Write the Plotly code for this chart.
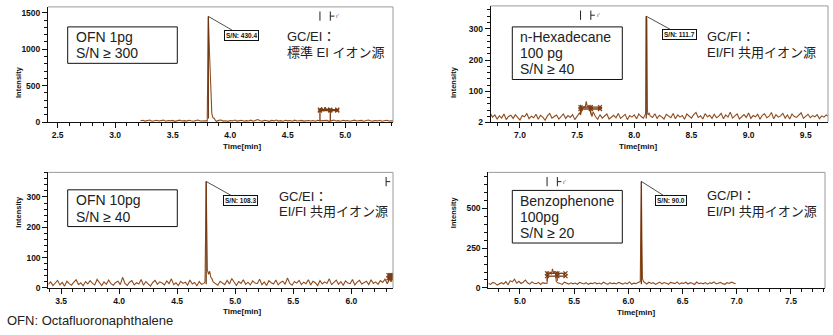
import numpy as np
import plotly.graph_objects as go

W, H = 833, 335
LINE = "#8e4c1e"

# ---------------- data ----------------
# Panel 1: OFN 1pg, standard EI source
p1_start, p1_step = 3.22, 0.02
p1_base = [18, 25, 14, 22, 30, 12, 20, 26, 15, 19,
           28, 13, 22, 17, 24, 11, 20, 27, 16, 21,
           14, 25, 18, 12, 22, 29, 15, 20, 17, 22,
           14, 26, 18, 12, 24, 30, 15, 20, 11, 23,
           17, 28, 14, 19, 25, 12, 21, 16, 27, 13,
           22, 35, 18, 14, 26, 20, 11, 24, 17, 29,
           15, 21, 13, 25, 18, 22, 12, 27, 16, 20,
           24, 14, 19, 23, 15, 22, 12, 26, 18, 20,
           14, 24, 11, 19, 28, 16, 21, 13, 25, 17,
           22, 12, 20, 27, 15, 18, 24, 13, 21, 30,
           19, 14, 23, 17, 26, 12, 20, 25, 16, 22,
           18]
p1_peak_t = [3.79, 3.80, 3.805, 3.81, 3.82, 3.83, 3.84, 3.85, 3.86, 3.87]
p1_peak_i = [20, 15, 700, 1450, 950, 380, 120, 60, 55, 28]
p1_noise_t = [4.78, 4.78, 4.795, 4.81, 4.825, 4.84, 4.855, 4.87, 4.87]
p1_noise_i = [15, 175, 195, 160, 205, 165, 190, 175, 15]
p1_win = (4.78, 4.87, 4.93)
p1_win_levels = [172, 160]

# Panel 2: n-Hexadecane 100 pg, EI/FI source
p2_start, p2_step = 6.74, 0.02
p2_base = [30, 18, 25, 12, 22, 15, 28, 10, 20, 24,
           14, 26, 17, 9, 23, 19, 29, 13, 21, 16,
           27, 11, 24, 18, 8, 22, 30, 15, 20, 25,
           12, 19, 28, 14, 23, 17, 26, 10, 21, 31,
           16, 24, 13, 29, 18, 35, 20, 11, 26, 15,
           22, 28, 12, 19, 24, 16, 30, 14, 21, 27,
           10, 23, 18, 25, 13, 28, 20, 15, 26, 11,
           22, 17, 29, 14, 24, 19, 12, 27, 21, 16,
           30, 13, 25, 18, 23, 11, 28, 20, 15, 26,
           33, 17, 22, 12, 29, 19, 24, 14, 27, 16,
           21, 30, 13, 25, 18, 34, 15, 22, 28, 12,
           20, 26, 17, 31, 14, 23, 19, 27, 11, 24,
           29, 16, 21, 33, 13, 26, 18, 22, 30, 15,
           25, 12, 28, 20, 17, 24, 32, 14, 21, 27,
           16, 23, 19, 26, 13, 22, 18, 25, 20]
p2_bump_t = [7.53, 7.545, 7.56, 7.57, 7.58, 7.59, 7.60, 7.61, 7.62, 7.63]
p2_bump_i = [25, 45, 52, 48, 68, 50, 55, 45, 30, 20]
p2_peak_t = [8.09, 8.10, 8.105, 8.11, 8.115, 8.12, 8.13]
p2_peak_i = [22, 30, 340, 330, 40, 25, 30]
p2_win = (7.53, 7.62, 7.70)
p2_win_levels = [50, 44]

# Panel 3: OFN 10pg, EI/FI source
p3_start, p3_step = 3.39, 0.02
p3_base = [12, 20, 8, 16, 25, 10, 18, 6, 22, 14,
           9, 19, 27, 11, 17, 7, 21, 13, 24, 15,
           10, 28, 16, 8, 20, 12, 26, 14, 9, 18,
           22, 11, 35, 15, 8, 19, 24, 10, 17, 13,
           28, 9, 21, 14, 6, 18, 25, 12, 20, 16,
           10, 23, 14, 30, 11, 17, 8, 22, 15, 19,
           9, 26, 13, 18, 7, 21, 12, 24, 16, 10,
           20, 28, 14, 9, 22, 17, 11, 25, 13, 31,
           18, 8, 21, 15, 27, 12, 19, 10, 23, 16,
           14, 29, 11, 20, 8, 24, 17, 13, 26, 10,
           18, 22, 12, 33, 15, 9, 21, 16, 25, 11,
           19, 14, 27, 10, 22, 17, 8, 24, 13, 20,
           15, 30, 11, 18, 26, 12, 21, 9, 23, 16,
           14, 28, 10, 19, 25, 13, 17, 22, 11, 27,
           15, 20, 12, 24, 18, 29, 14, 32, 21]
p3_peak_t = [4.73, 4.74, 4.745, 4.75, 4.755, 4.76, 4.77, 4.78, 4.79, 4.80, 4.81]
p3_peak_i = [15, 20, 180, 351, 200, 60, 45, 55, 35, 30, 20]
p3_win = (6.32, 6.34, 6.36)
p3_win_levels = [42, 32]

# Panel 4: Benzophenone 100pg, EI/PI source
p4_start, p4_step = 4.71, 0.02
p4_base = [28, 22, 35, 30, 18, 26, 33, 25, 40, 20,
           45, 38, 55, 30, 42, 28, 36, 50, 32, 24,
           38, 30, 27, 35, 22, 33, 29, 26, 31, 28,
           30, 25, 34, 27, 22, 36, 29, 24, 32, 26,
           31, 23, 35, 28, 25, 33, 22, 30, 27, 34,
           26, 31, 24, 36, 29, 22, 33, 27, 30, 25,
           35, 28, 24, 32, 26, 38, 23, 30, 27, 34,
           29, 40, 31, 25, 36, 28, 33, 22, 30, 37,
           26, 34, 29, 23, 35, 31, 27, 38, 24, 32,
           28, 36, 25, 33, 30, 22, 37, 27, 31, 26,
           34, 24, 32, 29, 38, 25, 30, 35, 27, 23,
           33, 28, 36, 30, 26]
p4_bump_t = [5.25, 5.255, 5.27, 5.28, 5.29, 5.30, 5.31, 5.32, 5.33, 5.335, 5.35]
p4_bump_i = [30, 75, 90, 100, 85, 120, 95, 105, 80, 40, 32]
p4_peak_t = [6.10, 6.11, 6.115, 6.12, 6.125, 6.13, 6.14, 6.15]
p4_peak_i = [35, 40, 400, 670, 300, 60, 40, 35]
p4_win = (5.25, 5.345, 5.42)
p4_win_levels = [92, 74]

sn_values = [430.4, 111.7, 108.3, 90.0]

box_lines = [["OFN 1pg", "S/N ≥ 300"],
             ["n-Hexadecane", "100 pg", "S/N ≥ 40"],
             ["OFN 10pg", "S/N ≥ 40"],
             ["Benzophenone", "100pg", "S/N ≥ 20"]]
src_lines = [["GC/EI：", "標準 EI イオン源"],
             ["GC/FI：", "EI/FI 共用イオン源"],
             ["GC/EI：", "EI/FI 共用イオン源"],
             ["GC/PI：", "EI/PI 共用イオン源"]]
footnote = "OFN: Octafluoronaphthalene"
x_title = "Time[min]"
y_title = "Intensity"


def build_trace(start, step, base, extra):
    """Baseline scans plus inserted peak segments, sorted by time."""
    t = np.round(start + step * np.arange(len(base)), 4)
    y = np.array(base, dtype=float)
    keep = np.ones(len(t), bool)
    for et, _ in extra:
        keep &= ~((t >= min(et) - 1e-9) & (t <= max(et) + 1e-9))
    t, y = list(t[keep]), list(y[keep])
    for et, ei in extra:
        t += list(et)
        y += list(ei)
    order = np.argsort(t, kind="stable")
    return np.array(t)[order], np.array(y)[order]


series = [
    build_trace(p1_start, p1_step, p1_base, [(p1_peak_t, p1_peak_i)]),
    build_trace(p2_start, p2_step, p2_base, [(p2_bump_t, p2_bump_i), (p2_peak_t, p2_peak_i)]),
    build_trace(p3_start, p3_step, p3_base, [(p3_peak_t, p3_peak_i)]),
    build_trace(p4_start, p4_step, p4_base, [(p4_bump_t, p4_bump_i), (p4_peak_t, p4_peak_i)]),
]
peaks = [(p1_peak_t, p1_peak_i), (p2_peak_t, p2_peak_i), (p3_peak_t, p3_peak_i), (p4_peak_t, p4_peak_i)]
windows = [(p1_win, p1_win_levels), (p2_win, p2_win_levels), (p3_win, p3_win_levels), (p4_win, p4_win_levels)]

# ---------------- layout geometry (pixels) ----------------
panels = [
    dict(xpx=(48, 393), ypx=(7, 124), xr=(2.416, 5.415), yr=(0, 1581),
         ytv=[0, 500, 1000, 1500], ymin=100, xtv=[2.5, 3.0, 3.5, 4.0, 4.5, 5.0],
         box=(67.7, 27.3, 177.3, 64.3), bx=76, by=[37.7, 53.3],
         sx=287, sy=[37.3, 53.3], sn_off=(33, 19), ytx=12, xty=149, top=True),
    dict(xpx=(490.7, 828), ypx=(6, 124), xr=(6.744, 9.695), yr=(2, 373),
         ytv=[2, 100, 200, 300], ymin=20, xtv=[7.0, 7.5, 8.0, 8.5, 9.0, 9.5],
         box=(512.3, 27.3, 622.3, 80.7), bx=520, by=[37.7, 53.3, 70],
         sx=706.7, sy=[37.3, 53.3], sn_off=(33, 18), ytx=453, xty=149, top=True),
    dict(xpx=(48.3, 393), ypx=(175, 292.3), xr=(3.39, 6.359), yr=(0, 381),
         ytv=[0, 100, 200, 300], ymin=20, xtv=[3.5, 4.0, 4.5, 5.0, 5.5, 6.0],
         box=(67.7, 192.7, 177.3, 230), bx=76, by=[203.3, 220.7],
         sx=279.3, sy=[199.3, 215], sn_off=(34, 19), ytx=12, xty=316, top=False),
    dict(xpx=(488.3, 825), ypx=(175, 292.3), xr=(4.708, 7.814), yr=(0, 727),
         ytv=[0, 250, 500], ymin=50, xtv=[5.0, 5.5, 6.0, 6.5, 7.0, 7.5],
         box=(512.3, 193.3, 622.3, 246.7), bx=520, by=[204, 220.7, 236.7],
         sx=706.7, sy=[198.3, 215], sn_off=(30, 19), ytx=453, xty=317, top=True),
]


def fx(px):
    return px / W


def fy(py):
    return 1 - py / H


fig = go.Figure()
shapes, annos = [], []
tick_font = dict(family="Liberation Sans Narrow, Liberation Sans, Arial", size=8.5,
                 color="#111", weight="bold")
latin_cjk = "Liberation Sans, Arial, Noto Sans CJK JP"

for k, (p, (t, y)) in enumerate(zip(panels, series)):
    sfx = "" if k == 0 else str(k + 1)
    xa, ya = "x" + sfx, "y" + sfx
    base_lvl = p["yr"][0]

    fig.add_trace(go.Scatter(x=t, y=y, mode="lines", xaxis=xa, yaxis=ya,
                             line=dict(color=LINE, width=1.1), showlegend=False,
                             hoverinfo="skip"))

    # apex drop line
    pt, pi = peaks[k]
    ia = int(np.argmax(pi))
    apex_t, apex_i = pt[ia], pi[ia]
    fig.add_trace(go.Scatter(x=[apex_t, apex_t], y=[base_lvl + 12 * (p["yr"][1] / 380), apex_i],
                             mode="lines", xaxis=xa, yaxis=ya,
                             line=dict(color="#6e3510", width=1.2), showlegend=False,
                             hoverinfo="skip"))

    # noise window bars with end markers
    (w0, wm, w1), lv = windows[k]
    for lvl in lv:
        fig.add_trace(go.Scatter(x=[w0, wm, w1], y=[lvl, lvl, lvl], mode="lines+markers",
                                 xaxis=xa, yaxis=ya,
                                 line=dict(color="#7a3c12", width=1.3),
                                 marker=dict(symbol="x-thin-open", size=4,
                                             line=dict(color="#7a3c12", width=1.2)),
                                 showlegend=False, hoverinfo="skip"))
    if k == 0:
        fig.add_trace(go.Scatter(x=p1_noise_t, y=p1_noise_i, mode="lines", xaxis=xa, yaxis=ya,
                                 line=dict(color="#7a3c12", width=1.3), showlegend=False,
                                 hoverinfo="skip"))
    else:
        for xv in (w0, wm):
            fig.add_trace(go.Scatter(x=[xv, xv], y=[min(lv) * 0.6, max(lv) * 1.15], mode="lines",
                                     xaxis=xa, yaxis=ya, line=dict(color="#7a3c12", width=1),
                                     showlegend=False, hoverinfo="skip"))

    # axes
    dom_x = [fx(p["xpx"][0]), fx(p["xpx"][1])]
    dom_y = [fy(p["ypx"][1]), fy(p["ypx"][0])]
    fig.update_layout(**{
        ("xaxis" + sfx): dict(domain=dom_x, range=list(p["xr"]), anchor=ya,
                              tickvals=p["xtv"], ticktext=[f"{v:.1f}" for v in p["xtv"]],
                              showline=True, linecolor="#111", linewidth=1,
                              ticks="outside", ticklen=5, tickwidth=1, tickcolor="#111",
                              minor=dict(dtick=0.1, tick0=0, ticks="outside", ticklen=3,
                                         tickcolor="#111", tickwidth=1),
                              showgrid=False, zeroline=False, tickfont=tick_font),
        ("yaxis" + sfx): dict(domain=dom_y, range=list(p["yr"]), anchor=xa,
                              tickvals=p["ytv"], showline=True, linecolor="#111", linewidth=1,
                              ticks="outside", ticklen=5, tickwidth=1, tickcolor="#111",
                              minor=dict(dtick=p["ymin"], tick0=0, ticks="outside", ticklen=3,
                                         tickcolor="#111", tickwidth=1),
                              showgrid=False, zeroline=False, tickfont=tick_font),
    })

    # grey top and right frame
    shapes.append(dict(type="line", xref=xa + " domain", yref=ya + " domain",
                       x0=0, x1=1, y0=1, y1=1, line=dict(color="#9a9a9a", width=1)))
    shapes.append(dict(type="line", xref=xa + " domain", yref=ya + " domain",
                       x0=1, x1=1, y0=0, y1=1, line=dict(color="#9a9a9a", width=1)))

    # noise-region markers along the top edge
    if p["top"]:
        for xv in (w0, wm):
            shapes.append(dict(type="line", xref=xa, yref=ya + " domain", x0=xv, x1=xv,
                               y0=0.88, y1=0.96, line=dict(color="#222", width=1)))
        dx = (p["xr"][1] - p["xr"][0]) * 0.012
        shapes.append(dict(type="line", xref=xa, yref=ya + " domain", x0=wm, x1=wm + dx,
                           y0=0.92, y1=0.92, line=dict(color="#222", width=1)))
        annos.append(dict(x=wm + dx, y=0.92, xref=xa, yref=ya + " domain", text="ı'",
                          showarrow=False, xanchor="left", yanchor="middle",
                          font=dict(size=6, color="#333")))
    else:
        xv = p["xr"][1] - (p["xr"][1] - p["xr"][0]) * 0.02
        dx = (p["xr"][1] - p["xr"][0]) * 0.012
        shapes.append(dict(type="line", xref=xa, yref=ya + " domain", x0=xv, x1=xv,
                           y0=0.88, y1=0.96, line=dict(color="#222", width=1)))
        shapes.append(dict(type="line", xref=xa, yref=ya + " domain", x0=xv, x1=xv + dx,
                           y0=0.92, y1=0.92, line=dict(color="#222", width=1)))

    # S/N callout
    annos.append(dict(x=apex_t, y=apex_i, xref=xa, yref=ya, text=f"S/N: {sn_values[k]:.1f}",
                      showarrow=True, arrowhead=0, arrowwidth=0.8, arrowcolor="#222",
                      ax=p["sn_off"][0], ay=p["sn_off"][1],
                      bordercolor="#111", borderwidth=1, borderpad=1, bgcolor="white",
                      font=dict(family="Liberation Sans Narrow, Liberation Sans, Arial",
                                size=6.5, color="#111", weight="bold")))

    # sample box
    x0, y0, x1, y1 = p["box"]
    shapes.append(dict(type="rect", xref="paper", yref="paper", x0=fx(x0), x1=fx(x1),
                       y0=fy(y1), y1=fy(y0), line=dict(color="#111", width=1)))
    for txt, yy in zip(box_lines[k], p["by"]):
        annos.append(dict(x=fx(p["bx"] - 2), y=fy(yy), xref="paper", yref="paper", text=txt,
                          showarrow=False, xanchor="left", yanchor="middle",
                          font=dict(family=latin_cjk, size=14, color="#222")))
    for txt, yy in zip(src_lines[k], p["sy"]):
        annos.append(dict(x=fx(p["sx"] - 2), y=fy(yy), xref="paper", yref="paper", text=txt,
                          showarrow=False, xanchor="left", yanchor="middle",
                          font=dict(family=latin_cjk, size=13, color="#222")))

    # axis titles
    annos.append(dict(x=fx(p["ytx"]), y=fy((p["ypx"][0] + p["ypx"][1]) / 2), xref="paper",
                      yref="paper", text=y_title, textangle=-90, showarrow=False,
                      font=dict(family="Liberation Sans, Arial", size=7.5, color="#111",
                                weight="bold")))
    annos.append(dict(x=fx((p["xpx"][0] + p["xpx"][1]) / 2), y=fy(p["xty"]), xref="paper",
                      yref="paper", text=x_title, showarrow=False, yanchor="middle",
                      font=dict(family="Liberation Sans, Arial", size=8, color="#111",
                                weight="bold")))

annos.append(dict(x=fx(5), y=fy(325), xref="paper", yref="paper", text=footnote,
                  showarrow=False, xanchor="left", yanchor="middle",
                  font=dict(family="Liberation Sans, Arial", size=13, color="#222")))

fig.update_layout(width=W, height=H, margin=dict(l=0, r=0, t=0, b=0),
                  paper_bgcolor="white", plot_bgcolor="white",
                  shapes=shapes, annotations=annos, showlegend=False)

fig.write_html("out.html")
